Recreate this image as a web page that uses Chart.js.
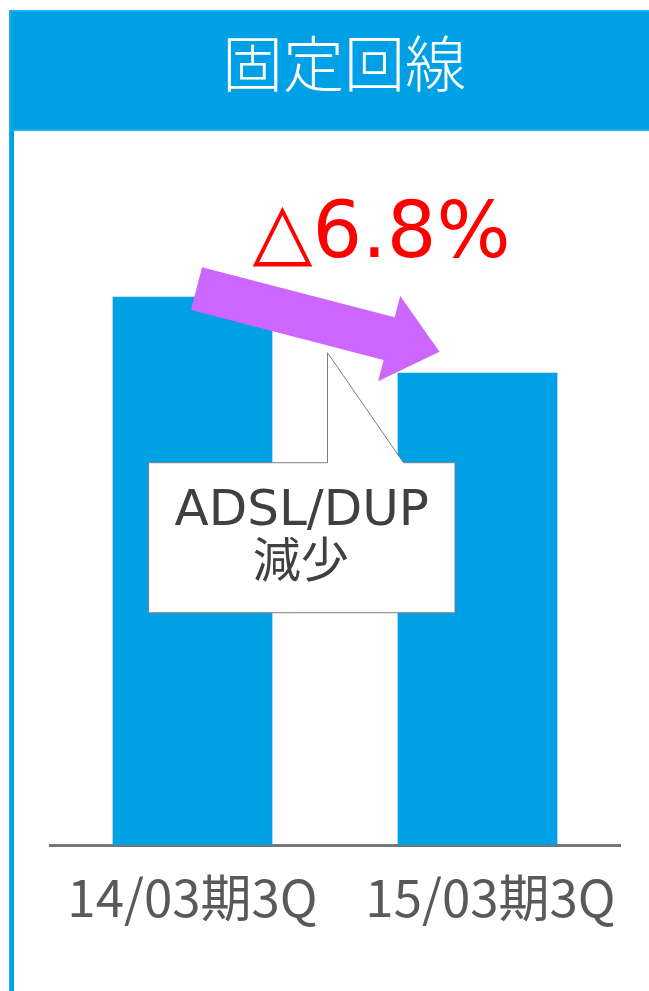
<!DOCTYPE html>
<html lang="ja">
<head>
<meta charset="utf-8">
<title>固定回線</title>
<script src="https://cdn.jsdelivr.net/npm/chart.js@4.4.1/dist/chart.umd.min.js"></script>
<style>
  html, body { margin: 0; padding: 0; background: #ffffff; overflow: hidden; }
  #wrap { position: relative; width: 649px; height: 991px; overflow: hidden; }
  #header {
    position: absolute; left: 9px; top: 10px; width: 674px; height: 117px;
    background: #00A0E6; border: 2px solid #1DB0EC; box-sizing: content-box;
    color: #ffffff; font-family: 'Noto Sans CJK JP', sans-serif; font-size: 61px; font-weight: 300;
    display: flex; align-items: center; justify-content: center; line-height: 1;
  }
  #title { position: relative; top: -10px; left: -4px; }
  #sideLine { position: absolute; left: 9px; top: 131px; width: 5px; height: 860px;
    background: #00A0E6; border-left: 1px solid #1DB0EC; box-sizing: border-box; }
  #chart { position: absolute; left: 0; top: 0; }
</style>
</head>
<body>
<div id="wrap">
  <div id="header"><span id="title">固定回線</span></div>
  <div id="sideLine"></div>
  <canvas id="chart" width="649" height="991"></canvas>
</div>
<script>
// Fixed-line revenue, same quarter of two fiscal years (previous year = 100)
const categories = ['14/03期3Q', '15/03期3Q'];
const values = [100, 93.2];
const changeLabel = '△6.8%';
const calloutLines = ['ADSL/DUP', '減少'];

const BAR_BLUE = '#00A0E6';
const JP_FONT = "'Noto Sans CJK JP', 'Noto Sans', sans-serif";
const LATIN_FONT = "'DejaVu Sans', 'Noto Sans CJK JP', sans-serif";

// Category axis whose tick labels can be nudged sideways one by one
class NudgedCategoryScale extends Chart.CategoryScale {
  getPixelForTick(index) {
    const nudges = this.options.ticks.nudge || [];
    return super.getPixelForTick(index) + (nudges[index] || 0);
  }
}
NudgedCategoryScale.id = 'nudgedCategory';
NudgedCategoryScale.defaults = Chart.CategoryScale.defaults;
Chart.register(NudgedCategoryScale);

// Draws the year-on-year arrow, the change label and the explanatory callout
const overlayPlugin = {
  id: 'overlay',
  afterDraw(chart) {
    const ctx = chart.ctx;
    const bars = chart.getDatasetMeta(0).data;
    const b1 = bars[0], b2 = bars[1];

    // thick arrow from the first bar's top towards the second bar
    const tx = b1.x + 4, ty = b1.y - 8;
    const px = b2.x - 38, py = b2.y - 21;
    const len = Math.hypot(px - tx, py - ty);
    const ux = (px - tx) / len, uy = (py - ty) / len;
    const nx = -uy, ny = ux;
    const shaftHalf = 22, headHalf = 44, headLen = 52;
    const bx = px - ux * headLen, by = py - uy * headLen;
    ctx.save();
    ctx.fillStyle = '#CC66FF';
    ctx.beginPath();
    ctx.moveTo(tx + nx * shaftHalf, ty + ny * shaftHalf);
    ctx.lineTo(bx + nx * shaftHalf, by + ny * shaftHalf);
    ctx.lineTo(bx + nx * headHalf, by + ny * headHalf);
    ctx.lineTo(px, py);
    ctx.lineTo(bx - nx * headHalf, by - ny * headHalf);
    ctx.lineTo(bx - nx * shaftHalf, by - ny * shaftHalf);
    ctx.lineTo(tx - nx * shaftHalf, ty - ny * shaftHalf);
    ctx.closePath();
    ctx.fill();

    // change label
    ctx.fillStyle = '#FF0000';
    ctx.font = '78px ' + LATIN_FONT;
    ctx.textAlign = 'center';
    ctx.textBaseline = 'alphabetic';
    ctx.fillText(changeLabel, b2.x - 96, b1.y - 40);

    // callout box with a pointer up to the gap between the bars
    const left = b1.x - 44, right = b2.x - 22.5;
    const top = b2.y + 90, bottom = top + 150;
    const p0 = left + 179, p1 = left + 255, tipY = top - 110;
    ctx.beginPath();
    ctx.moveTo(left, top);
    ctx.lineTo(p0, top);
    ctx.lineTo(p0, tipY);
    ctx.lineTo(p1, top);
    ctx.lineTo(right, top);
    ctx.lineTo(right, bottom);
    ctx.lineTo(left, bottom);
    ctx.closePath();
    ctx.fillStyle = '#FFFFFF';
    ctx.fill();
    ctx.strokeStyle = '#7F7F7F';
    ctx.lineWidth = 1;
    ctx.stroke();

    const cx = (left + right) / 2;
    ctx.fillStyle = '#404040';
    ctx.font = '50px ' + LATIN_FONT;
    ctx.fillText(calloutLines[0], cx, top + 62);
    ctx.font = '48px ' + JP_FONT;
    ctx.fillText(calloutLines[1], cx - 1, top + 114);
    ctx.restore();
  }
};

new Chart(document.getElementById('chart'), {
  type: 'bar',
  data: {
    labels: categories,
    datasets: [{
      data: values,
      backgroundColor: BAR_BLUE,
      borderWidth: 0,
      barPercentage: 0.5604,
      categoryPercentage: 1
    }]
  },
  options: {
    responsive: false,
    animation: false,
    events: [],
    layout: { padding: { top: 131, left: 50, right: 29, bottom: 0 } },
    plugins: { legend: { display: false }, tooltip: { enabled: false }, title: { display: false } },
    scales: {
      y: { display: false, min: 51, max: 114.8 },
      x: {
        type: 'nudgedCategory',
        z: 1,
        grid: { display: false, drawTicks: false },
        border: { display: true, color: '#767676', width: 3 },
        ticks: {
          color: '#595959',
          font: { family: JP_FONT, size: 51 },
          padding: 22,
          maxRotation: 0,
          autoSkip: false,
          nudge: [0, 13]
        },
        afterFit(scale) { scale.height = 146; }
      }
    }
  },
  plugins: [overlayPlugin]
});
</script>
</body>
</html>
